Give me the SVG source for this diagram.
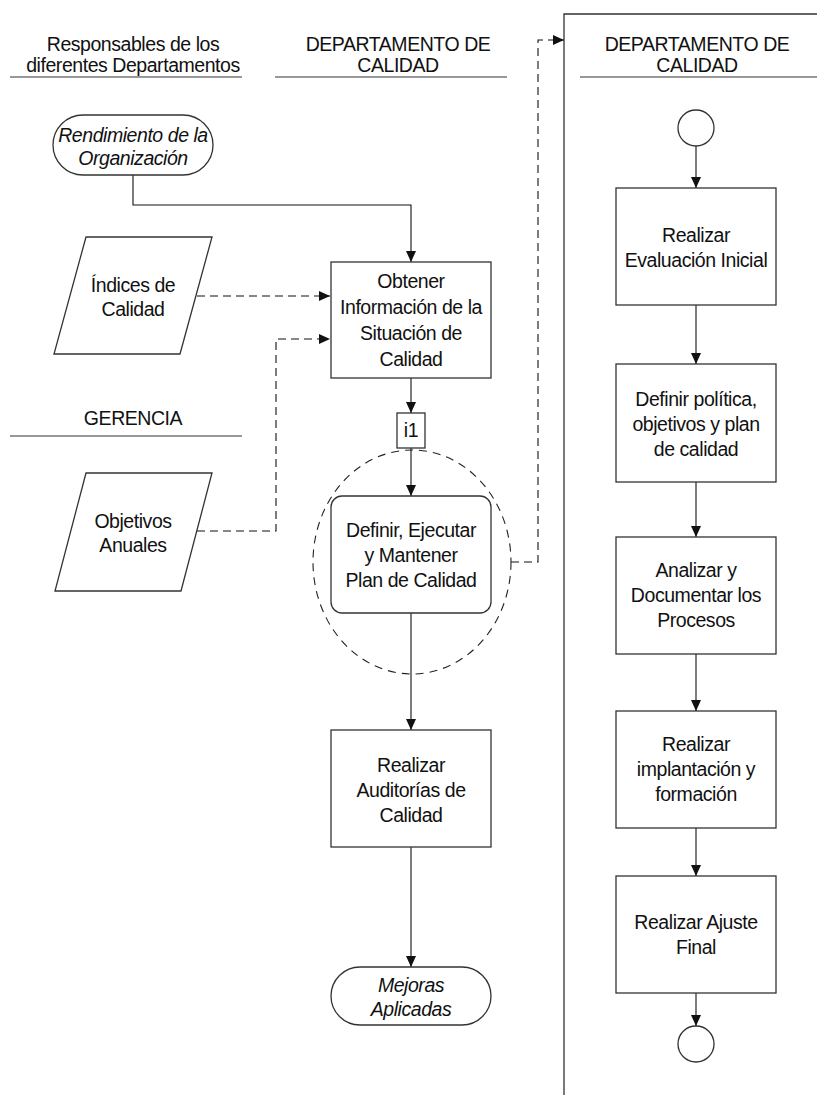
<svg xmlns="http://www.w3.org/2000/svg" width="817" height="1095" viewBox="0 0 817 1095">
<style>
text{font-family:"Liberation Sans",Arial,sans-serif;font-size:19.5px;letter-spacing:-0.45px;fill:#111;text-anchor:middle}
.it{font-style:italic}
.shape{fill:#fff;stroke:#333;stroke-width:1.3}
.ln{fill:none;stroke:#111;stroke-width:1.1}
.dash{fill:none;stroke:#111;stroke-width:1.1;stroke-dasharray:8,5}
.rule{stroke:#333;stroke-width:1.2}
</style>
<defs>
<marker id="ah" markerWidth="12" markerHeight="12" refX="11" refY="6" orient="auto" markerUnits="userSpaceOnUse">
<path d="M0,1 L11,6 L0,11 Z" fill="#111"/>
</marker>
</defs>
<g id="headers">
<text x="133" y="51">Responsables de los</text>
<text x="133" y="72">diferentes Departamentos</text>
<line class="rule" x1="10" y1="77" x2="242" y2="77"/>
<text x="398" y="51">DEPARTAMENTO DE</text>
<text x="398" y="72">CALIDAD</text>
<line class="rule" x1="275" y1="77" x2="507" y2="77"/>
<text x="133" y="425">GERENCIA</text>
<line class="rule" x1="10" y1="436" x2="242" y2="436"/>
</g>
<g id="panel">
<path d="M817,14 H564 V1095" fill="none" stroke="#333" stroke-width="1.3"/>
<text x="697" y="51">DEPARTAMENTO DE</text>
<text x="697" y="72">CALIDAD</text>
<line class="rule" x1="580" y1="77" x2="817" y2="77"/>
</g>
<g id="connectors">
<path class="ln" d="M133,175 V205 H411 V262" marker-end="url(#ah)"/>
<path class="dash" d="M197,296 H330" marker-end="url(#ah)"/>
<path class="dash" d="M197,531 H276 V339 H330" marker-end="url(#ah)"/>
<path class="ln" d="M411,378 V413" marker-end="url(#ah)"/>
<path class="ln" d="M411,448 V496" marker-end="url(#ah)"/>
<path class="ln" d="M411,613 V730" marker-end="url(#ah)"/>
<path class="ln" d="M411,847 V967" marker-end="url(#ah)"/>
<path class="dash" d="M511,562 H538 V40 H564" marker-end="url(#ah)"/>
<path class="ln" d="M696,146 V188" marker-end="url(#ah)"/>
<path class="ln" d="M696,305 V364" marker-end="url(#ah)"/>
<path class="ln" d="M696,482 V537" marker-end="url(#ah)"/>
<path class="ln" d="M696,654 V711" marker-end="url(#ah)"/>
<path class="ln" d="M696,828 V876" marker-end="url(#ah)"/>
<path class="ln" d="M696,993 V1026" marker-end="url(#ah)"/>
</g>
<g id="rendimiento">
<rect class="shape" x="53" y="115" width="160" height="60" rx="30"/>
<text class="it" x="133" y="142">Rendimiento de la</text>
<text class="it" x="133" y="165">Organización</text>
</g>
<g id="indices">
<polygon class="shape" points="86,237 212,237 180,354 54,354"/>
<text x="133" y="292">Índices de</text>
<text x="133" y="316">Calidad</text>
</g>
<g id="objetivos">
<polygon class="shape" points="86,473 212,473 181,591 55,591"/>
<text x="133" y="528">Objetivos</text>
<text x="133" y="552">Anuales</text>
</g>
<g id="obtener">
<rect class="shape" x="331" y="262" width="160" height="116"/>
<text x="411" y="288">Obtener</text>
<text x="411" y="314">Información de la</text>
<text x="411" y="340">Situación de</text>
<text x="411" y="366">Calidad</text>
</g>
<g id="i1">
<rect class="shape" x="397" y="413" width="28" height="35"/>
<text x="411" y="437">i1</text>
</g>
<g id="grupo">
<ellipse cx="412" cy="562" rx="99" ry="112" fill="none" stroke="#222" stroke-width="1.1" stroke-dasharray="8,6"/>
</g>
<g id="definir">
<rect class="shape" x="331" y="496" width="160" height="117" rx="11"/>
<text x="411" y="537">Definir, Ejecutar</text>
<text x="411" y="562">y Mantener</text>
<text x="411" y="587">Plan de Calidad</text>
</g>
<g id="auditorias">
<rect class="shape" x="331" y="730" width="160" height="117"/>
<text x="411" y="772">Realizar</text>
<text x="411" y="797">Auditorías de</text>
<text x="411" y="822">Calidad</text>
</g>
<g id="mejoras">
<rect class="shape" x="331" y="967" width="160" height="58" rx="29"/>
<text class="it" x="411" y="992">Mejoras</text>
<text class="it" x="411" y="1016">Aplicadas</text>
</g>
<g id="inicio">
<circle class="shape" cx="696" cy="128" r="18"/>
</g>
<g id="evaluacion">
<rect class="shape" x="616" y="188" width="160" height="117"/>
<text x="696" y="242">Realizar</text>
<text x="696" y="267">Evaluación Inicial</text>
</g>
<g id="politica">
<rect class="shape" x="616" y="364" width="160" height="118"/>
<text x="696" y="406">Definir política,</text>
<text x="696" y="431">objetivos y plan</text>
<text x="696" y="456">de calidad</text>
</g>
<g id="procesos">
<rect class="shape" x="616" y="537" width="160" height="117"/>
<text x="696" y="577">Analizar y</text>
<text x="696" y="602">Documentar los</text>
<text x="696" y="627">Procesos</text>
</g>
<g id="implantacion">
<rect class="shape" x="616" y="711" width="160" height="117"/>
<text x="696" y="751">Realizar</text>
<text x="696" y="776">implantación y</text>
<text x="696" y="801">formación</text>
</g>
<g id="ajuste">
<rect class="shape" x="616" y="876" width="160" height="117"/>
<text x="696" y="929">Realizar Ajuste</text>
<text x="696" y="954">Final</text>
</g>
<g id="fin">
<circle class="shape" cx="696" cy="1044" r="18"/>
</g>
</svg>
